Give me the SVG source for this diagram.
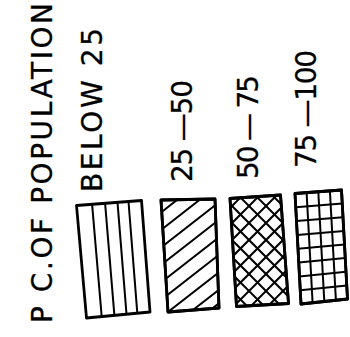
<svg xmlns="http://www.w3.org/2000/svg" width="350" height="337" viewBox="0 0 350 337">
<style>
  text { font-family: "DejaVu Sans", "Liberation Sans", sans-serif; font-size: 28px; fill: #000; stroke: #000; stroke-width: 0.3; }
  .box { fill: #fff; stroke: #000; stroke-width: 2.8; stroke-linejoin: round; }
  .edge { fill: none; stroke: #000; stroke-width: 2.8; stroke-linejoin: round; }
  .hatch { stroke: #000; stroke-width: 2; fill: none; }
</style>
<defs>
  <clipPath id="c2"><polygon points="161,200 215,199 219,308 168,312"/></clipPath>
  <clipPath id="c3"><polygon points="230,198.5 280.5,195 288.5,303.5 236.5,306.5"/></clipPath>
</defs>
<rect width="350" height="337" fill="#fff"/>

<g id="title">
  <text transform="translate(51.5,323) rotate(-90)" textLength="320">P C.OF POPULATION</text>
</g>

<g id="label-below25">
  <text transform="translate(102,192) rotate(-90)" textLength="164">BELOW 25</text>
</g>
<g id="label-25-50">
  <text transform="translate(192,182) rotate(-90)" textLength="102">25 —50</text>
</g>
<g id="label-50-75">
  <text transform="translate(258,179) rotate(-90)" textLength="104">50 — 75</text>
</g>
<g id="label-75-100">
  <text transform="translate(316,168) rotate(-90)" textLength="118">75 —100</text>
</g>

<g id="box-below25">
  <polygon class="box" points="76.5,205.5 141.5,200.5 150,312 86.5,318"/>
  <g class="hatch">
    <line x1="92.1" y1="204.3" x2="101.7" y2="316.6"/>
    <line x1="105.1" y1="203.3" x2="114.4" y2="315.4"/>
    <line x1="117.5" y1="202.3" x2="126.5" y2="314.2"/>
    <line x1="128.5" y1="201.5" x2="137.3" y2="313.2"/>
  </g>
</g>

<g id="box-25-50">
  <polygon class="box" points="161,200 215,199 219,308 168,312"/>
  <g class="hatch" clip-path="url(#c2)">
    <line x1="150" y1="221" x2="230" y2="158.6"/>
    <line x1="150" y1="238.5" x2="230" y2="176.1"/>
    <line x1="150" y1="256" x2="230" y2="193.6"/>
    <line x1="150" y1="273.5" x2="230" y2="211.1"/>
    <line x1="150" y1="291" x2="230" y2="228.6"/>
    <line x1="150" y1="308.5" x2="230" y2="246.1"/>
    <line x1="150" y1="326" x2="230" y2="263.6"/>
    <line x1="150" y1="343.5" x2="230" y2="281.1"/>
    <line x1="150" y1="357" x2="230" y2="294.6"/>
  </g>
  <polygon class="edge" points="161,200 215,199 219,308 168,312"/>
</g>

<g id="box-50-75">
  <polygon class="box" points="230,198.5 280.5,195 288.5,303.5 236.5,306.5"/>
  <g class="hatch" stroke-width="2.5" clip-path="url(#c3)">
    <line x1="220" y1="218" x2="300" y2="138"/>
    <line x1="220" y1="235" x2="300" y2="155"/>
    <line x1="220" y1="252" x2="300" y2="172"/>
    <line x1="220" y1="269" x2="300" y2="189"/>
    <line x1="220" y1="286" x2="300" y2="206"/>
    <line x1="220" y1="303" x2="300" y2="223"/>
    <line x1="220" y1="320" x2="300" y2="240"/>
    <line x1="220" y1="337" x2="300" y2="257"/>
    <line x1="220" y1="354" x2="300" y2="274"/>
    <line x1="220" y1="371" x2="300" y2="291"/>
    <line x1="220" y1="388" x2="300" y2="308"/>
    <line x1="220" y1="143" x2="300" y2="223"/>
    <line x1="220" y1="160" x2="300" y2="240"/>
    <line x1="220" y1="177" x2="300" y2="257"/>
    <line x1="220" y1="194" x2="300" y2="274"/>
    <line x1="220" y1="211" x2="300" y2="291"/>
    <line x1="220" y1="228" x2="300" y2="308"/>
    <line x1="220" y1="245" x2="300" y2="325"/>
    <line x1="220" y1="262" x2="300" y2="342"/>
    <line x1="220" y1="279" x2="300" y2="359"/>
    <line x1="220" y1="296" x2="300" y2="376"/>
  </g>
  <polygon class="edge" points="230,198.5 280.5,195 288.5,303.5 236.5,306.5"/>
</g>

<g id="box-75-100">
  <polygon class="box" points="295,193.5 341.5,190 347.5,299 301,304"/>
  <g class="hatch" stroke-width="2.4">
    <line x1="306.6" y1="192.6" x2="312.6" y2="302.8"/>
    <line x1="318.3" y1="191.8" x2="324.3" y2="301.5"/>
    <line x1="329.9" y1="190.9" x2="335.9" y2="300.3"/>
    <line x1="295.8" y1="207.3" x2="342.3" y2="203.6"/>
    <line x1="296.5" y1="221.1" x2="343" y2="217.3"/>
    <line x1="297.3" y1="234.9" x2="343.8" y2="230.9"/>
    <line x1="298" y1="248.8" x2="344.5" y2="244.5"/>
    <line x1="298.8" y1="262.6" x2="345.3" y2="258.1"/>
    <line x1="299.5" y1="276.4" x2="346" y2="271.8"/>
    <line x1="300.3" y1="290.2" x2="346.8" y2="285.4"/>
  </g>
  <polygon class="edge" points="295,193.5 341.5,190 347.5,299 301,304"/>
</g>
</svg>
